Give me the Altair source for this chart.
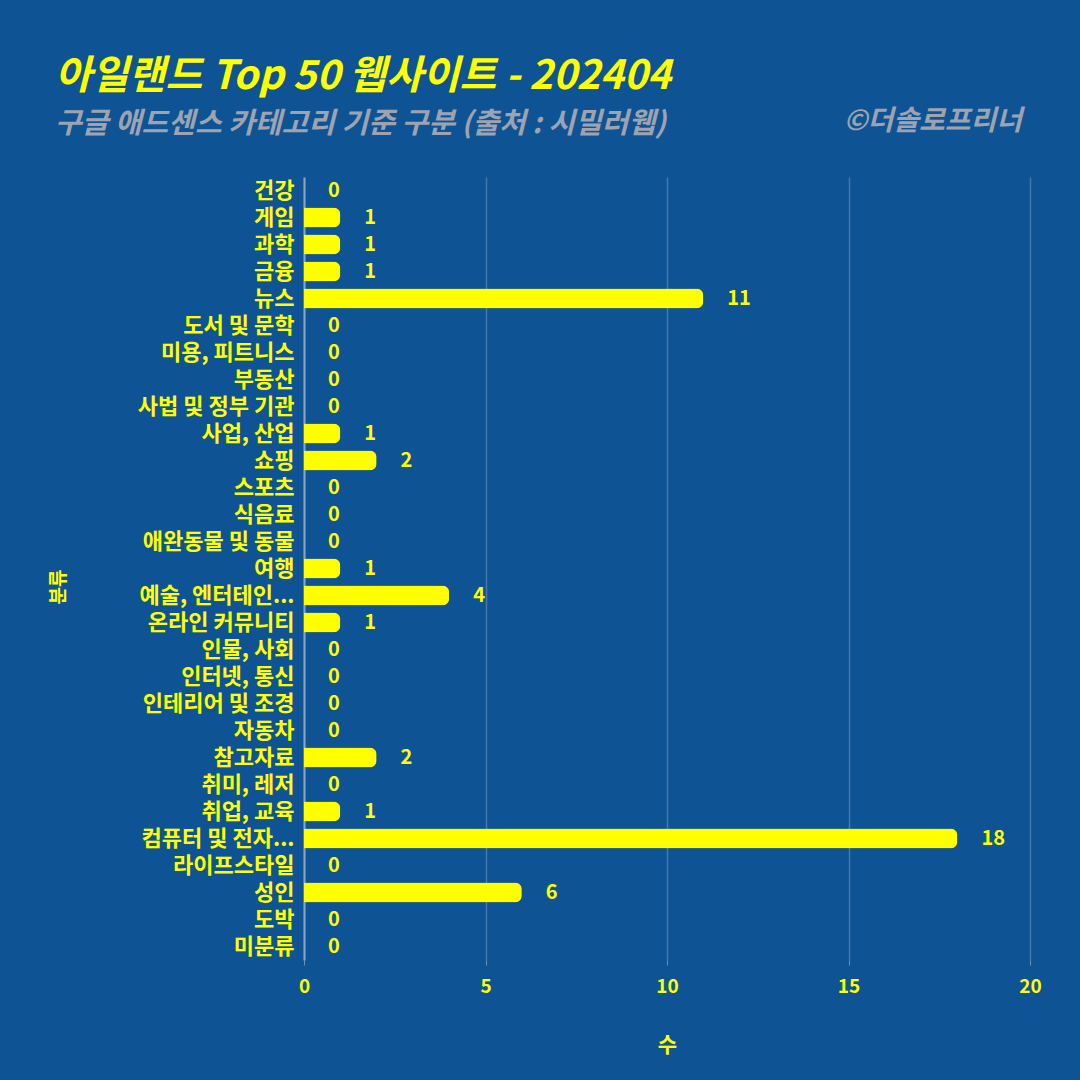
import altair as alt
import pandas as pd

categories = [
    "건강", "게임", "과학", "금융", "뉴스", "도서 및 문학", "미용, 피트니스", "부동산",
    "사법 및 정부 기관", "사업, 산업", "쇼핑", "스포츠", "식음료", "애완동물 및 동물", "여행",
    "예술, 엔터테인...", "온라인 커뮤니티", "인물, 사회", "인터넷, 통신", "인테리어 및 조경",
    "자동차", "참고자료", "취미, 레저", "취업, 교육", "컴퓨터 및 전자...", "라이프스타일",
    "성인", "도박", "미분류",
]
counts = [0, 1, 1, 1, 11, 0, 0, 0, 0, 1, 2, 0, 0, 0, 1, 4, 1, 0, 0, 0, 0, 2, 0, 1, 18, 0, 6, 0, 0]
x_ticks = [0, 5, 10, 15, 20]

title_text = "아일랜드 Top 50 웹사이트 - 202404"
subtitle_text = "구글 애드센스 카테고리 기준 구분 (출처 : 시밀러웹)"
credit_text = ["©더솔로프리너"]

df = pd.DataFrame({"분류": categories, "수": counts})

FONT = "Noto Sans CJK KR"
YEL = "#FFFF00"
BG = "#0E5394"
GREY = "#9DA3B0"

W, H = 726, 783

base = alt.Chart(df)

x_enc = alt.X(
    "수:Q",
    scale=alt.Scale(domain=[0, 20], nice=False),
    axis=alt.Axis(
        values=x_ticks, format="d", domain=False, ticks=True, tickSize=5,
        tickColor="#6F8FB8", grid=True, gridColor="#4677AD", gridWidth=1.5,
        labelFont=FONT, labelFontSize=19, labelFontWeight="bold", labelColor=YEL,
        labelPadding=12, labelFlush=False, title="수", titleFont=FONT, titleFontSize=21,
        titleFontWeight="bold", titleColor=YEL, titlePadding=38,
    ),
)
y_enc = alt.Y(
    "분류:N",
    sort=None,
    scale=alt.Scale(paddingInner=0.26, paddingOuter=0.13),
    axis=alt.Axis(
        domain=True, domainColor="#8FA3BC", domainWidth=2, ticks=False, grid=False,
        labelFont=FONT, labelFontSize=22, labelFontWeight="bold", labelColor=YEL,
        labelPadding=10, labelLimit=300,
        title="분류", titleFont=FONT, titleFontSize=19, titleFontWeight="bold",
        titleColor=YEL, titleX=-246, titleY=H / 2 + 18, titleAngle=-90,
        titleAlign="center", titleBaseline="middle",
    ),
)

bars = base.mark_bar(color=YEL, cornerRadiusEnd=7).encode(x=x_enc, y=y_enc)

values = base.mark_text(
    align="left", baseline="middle", dx=24, color=YEL, font=FONT,
    fontSize=20, fontWeight="bold",
).encode(x="수:Q", y=alt.Y("분류:N", sort=None), text="수:Q")

credit = alt.Chart(pd.DataFrame({"t": credit_text})).mark_text(
    align="right", baseline="middle", color=GREY, font=FONT, fontSize=28,
    fontStyle="italic", fontWeight="bold", x=W - 8, y=-55,
).encode(text="t:N")

chart = alt.layer(bars, values, credit).properties(
    width=W,
    height=H,
    title=alt.Title(
        title_text,
        subtitle=subtitle_text,
        anchor="start",
        frame="group",
        dx=-249,
        offset=-31,
        font=FONT,
        fontSize=40,
        fontStyle="italic",
        fontWeight="bold",
        color=YEL,
        subtitleFont=FONT,
        subtitleFontSize=29,
        subtitleFontStyle="italic",
        subtitleFontWeight="bold",
        subtitleColor=GREY,
        subtitlePadding=13,
    ),
    background=BG,
    autosize=alt.AutoSizeParams(type="none"),
    padding={"left": 304, "top": 177, "right": 50, "bottom": 120},
).configure_view(stroke=None)

chart.save("out.html", embed_options={"renderer": "svg", "actions": False})
